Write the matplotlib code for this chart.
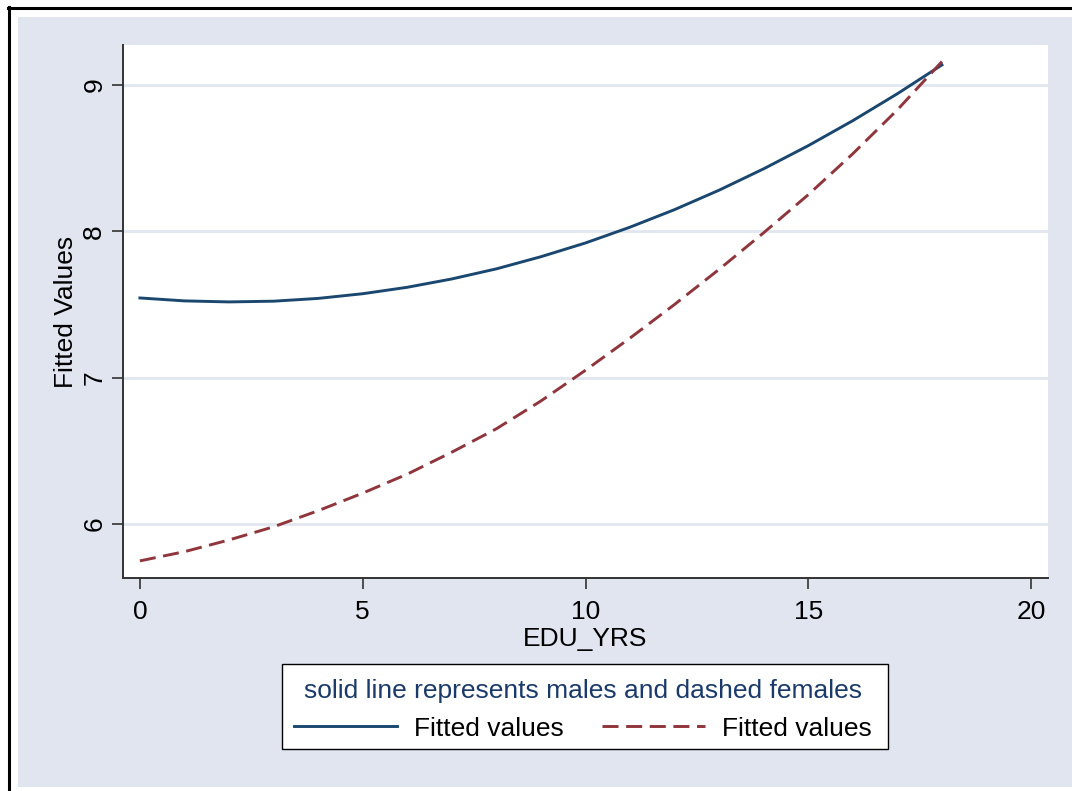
import matplotlib
matplotlib.use('Agg')
import matplotlib.pyplot as plt
from matplotlib.patches import Rectangle
from matplotlib.lines import Line2D

plt.rcParams['font.family'] = ['Liberation Sans', 'DejaVu Sans']

# values
edu_yrs = [0, 1, 2, 3, 4, 5, 6, 7, 8, 9, 10, 11, 12, 13, 14, 15, 16, 17, 18]
fit_males = [7.544, 7.524, 7.517, 7.522, 7.541, 7.573, 7.617, 7.674, 7.743, 7.826,
             7.920, 8.028, 8.148, 8.281, 8.427, 8.585, 8.756, 8.940, 9.137]
fit_females = [5.747, 5.81, 5.89, 5.98, 6.09, 6.21, 6.34, 6.49, 6.65, 6.84,
               7.05, 7.27, 7.50, 7.74, 7.99, 8.25, 8.53, 8.83, 9.16]
x_ticks = [0, 5, 10, 15, 20]
y_ticks = [6, 7, 8, 9]

navy = '#1a476f'
maroon = '#90353b'
bg = '#e0e5f0'
fs = 19

fig = plt.figure(figsize=(10.72, 7.91), dpi=100)
W, H = 1072.0, 791.0

# outer frame (white, black border on top/left) and lavender graph region
fig.patches.append(Rectangle((18 / W, 1 - 787 / H), (W - 18) / W, (787 - 17) / H,
                             transform=fig.transFigure, facecolor=bg, edgecolor='none', zorder=-5))
fig.add_artist(Line2D([9 / W, 9 / W], [0, 1 - 7 / H], transform=fig.transFigure,
                      color='black', lw=2.2, zorder=-4))
fig.add_artist(Line2D([8 / W, 1], [1 - 8 / H, 1 - 8 / H], transform=fig.transFigure,
                      color='black', lw=2.2, zorder=-4))

ax = fig.add_axes([123 / W, 1 - 578 / H, (1048 - 123) / W, (578 - 45) / H])
ax.set_zorder(1)
ax.set_facecolor('white')

ax.plot(edu_yrs, fit_males, color=navy, lw=2.1, label='Fitted values', zorder=3)
ax.plot(edu_yrs, fit_females, color=maroon, lw=2.1, dashes=(5.5, 2.6),
        label='Fitted values', zorder=3)

ax.set_xlim(-0.38, 20.38)
ax.set_ylim(5.63, 9.273)
ax.set_xticks(x_ticks)
ax.set_yticks(y_ticks)
ax.yaxis.grid(True, color='#e1e6f0', lw=2)
ax.set_axisbelow(True)

for s in ['top', 'right']:
    ax.spines[s].set_visible(False)
for s in ['left', 'bottom']:
    ax.spines[s].set_color('#333333')
    ax.spines[s].set_linewidth(1.4)

ax.tick_params(axis='both', length=8, width=1.2, color='#333333', labelsize=fs)
ax.tick_params(axis='x', pad=8)
ax.tick_params(axis='y', pad=4)
for lab in ax.get_yticklabels():
    lab.set_rotation(90)
    lab.set_va('center')

ax.set_xlabel('EDU_YRS', fontsize=fs, labelpad=2)
ax.set_ylabel('Fitted Values', fontsize=fs, labelpad=3)

# legend box drawn separately so the contents can sit a little lower
fig.patches.append(Rectangle((282 / W, 1 - 749 / H), (888 - 282) / W, (749 - 664) / H,
                             transform=fig.transFigure, facecolor='white',
                             edgecolor='black', lw=1.0, zorder=2))
leg = fig.legend(loc='center', bbox_to_anchor=(583 / W, 1 - 710 / H),
                 bbox_transform=fig.transFigure, ncol=2, fontsize=fs,
                 title='solid line represents males and dashed females',
                 title_fontsize=fs, frameon=False, handlelength=3.9,
                 handletextpad=0.65, columnspacing=1.45, borderpad=0.45)
leg.get_title().set_color('#1a3a6b')
leg.set_zorder(3)

fig.savefig('out.png', dpi=100, facecolor='white')
